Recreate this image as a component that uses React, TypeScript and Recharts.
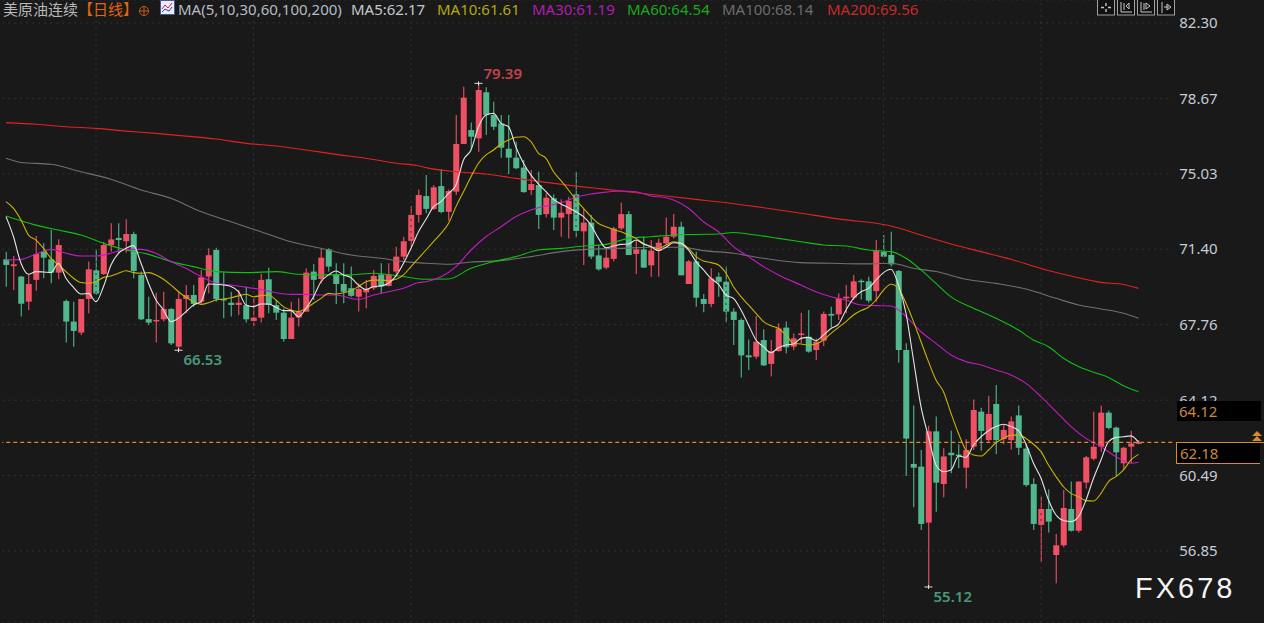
import React from 'react';
import { Bar, CartesianGrid, ComposedChart, Line, ReferenceDot, ReferenceLine, XAxis, YAxis } from 'recharts';

const opens = [70.91,70.58,70.08,68.87,69.92,71.28,70.91,70.27,68.9,67.91,67.38,69.0,70.38,70.2,71.6,71.94,71.78,72.13,70.16,68.03,67.94,68.02,68.52,66.7,69.0,69.19,68.87,70.08,71.36,69.0,68.82,68.71,68.7,67.94,68.1,69.95,68.7,68.34,67.07,68.1,68.39,70.32,69.96,71.39,70.2,69.72,69.52,69.11,69.32,69.52,70.18,69.63,70.32,71.04,71.8,73.05,73.96,73.34,74.44,73.2,74.17,76.47,77.14,76.74,78.96,77.87,77.46,76.24,75.81,75.33,74.25,74.49,73.09,73.85,72.92,73.09,74.04,72.26,72.68,71.1,70.51,70.93,72.4,73.09,71.17,71.39,70.62,71.33,71.68,72.0,72.48,69.72,70.81,69.0,68.76,70.07,69.83,68.39,67.99,66.28,66.22,67.02,65.87,66.49,67.62,66.7,67.26,67.18,66.54,66.99,68.28,68.26,69.03,69.06,69.88,69.85,69.38,71.28,71.12,70.35,66.54,61.05,60.92,58.22,62.62,60.08,61.59,61.5,60.87,61.88,63.57,62.2,63.94,62.25,62.2,63.39,61.79,60.08,58.11,58.88,56.66,57.13,58.88,57.83,60.15,61.3,61.88,63.52,62.8,61.08,61.88,62.04];
const highs = [71.28,71.07,70.11,70.16,72.03,71.68,72.33,71.88,68.98,68.87,69.0,70.8,71.39,71.76,72.65,72.65,72.84,72.24,70.32,69.11,69.3,69.35,68.55,69.35,69.67,69.67,70.4,71.44,71.47,70.27,69.35,69.43,69.6,69.11,70.21,70.51,68.95,68.55,68.87,69.03,70.48,70.69,71.44,71.44,70.72,70.72,70.56,69.76,69.92,70.4,70.72,70.72,71.52,72.0,73.48,74.28,74.97,74.49,75.25,74.28,77.87,79.23,77.5,79.39,79.2,78.51,77.87,77.87,76.58,75.7,75.21,75.13,74.09,74.04,73.8,73.93,75.13,73.32,73.05,71.6,71.47,72.48,73.64,73.24,71.84,72.0,71.84,71.92,72.93,73.09,72.72,70.88,71.28,69.24,70.48,70.27,70.56,68.55,68.07,67.05,68.18,67.54,67.02,67.83,67.91,67.34,68.34,68.47,67.1,68.39,68.63,69.27,69.67,70.15,69.95,70.07,71.84,72.08,72.24,70.4,66.86,63.86,61.72,62.89,63.33,61.8,62.65,62.0,62.24,64.16,63.76,64.34,64.85,62.93,63.33,63.86,62.04,60.36,59.47,59.83,57.67,59.79,60.2,60.2,61.43,63.57,63.86,63.62,62.85,61.88,62.65,62.2];
const lows = [69.59,69.43,68.15,68.47,69.39,70.0,69.76,69.95,66.9,66.7,67.26,68.31,69.2,70.16,71.28,71.2,71.23,70.0,67.99,67.75,66.9,67.91,66.78,66.53,68.31,68.63,68.71,69.27,68.87,68.07,68.15,68.23,67.86,67.7,67.86,68.31,67.99,66.94,67.07,67.67,68.39,68.95,69.76,70.32,68.76,68.79,69.11,68.39,68.55,69.43,69.27,69.6,70.08,70.88,71.52,72.68,73.13,73.29,73.13,72.77,74.01,76.47,76.21,76.1,76.9,77.14,75.81,75.02,75.25,74.12,74.01,72.37,72.93,72.32,72.0,71.92,72.0,70.64,70.93,70.36,70.43,70.8,72.32,71.12,70.2,70.51,70.07,70.07,71.6,71.92,70.14,69.72,68.63,68.36,68.6,69.11,67.86,66.78,65.22,65.58,66.11,65.77,65.26,66.46,66.38,66.54,66.86,66.41,66.06,66.73,67.63,67.99,68.31,68.95,68.98,68.82,68.87,71.01,70.56,65.93,60.47,58.96,57.87,55.12,58.75,59.44,60.6,60.84,59.87,61.72,61.69,62.12,61.53,62.0,61.75,61.48,59.95,57.87,56.34,57.74,55.3,57.03,57.79,57.74,59.87,61.21,61.64,62.72,60.44,60.76,61.08,62.0];
const closes = [70.64,70.67,68.77,69.72,71.17,70.99,70.27,71.6,67.91,67.46,69.0,70.43,69.26,71.6,71.87,71.84,72.13,70.35,68.02,67.86,67.99,68.52,66.86,69.0,69.19,68.76,70.04,71.11,69.0,68.95,68.71,68.82,68.02,68.1,69.92,68.71,68.34,67.07,68.1,68.39,70.27,69.92,70.99,70.56,69.72,69.35,69.15,69.48,69.48,70.11,69.6,70.18,71.04,71.78,73.05,74.01,73.34,74.38,73.19,74.2,76.47,78.7,76.82,79.07,77.87,77.3,76.29,75.81,75.3,74.15,74.54,73.05,73.88,72.92,73.16,73.72,72.28,72.68,71.04,70.43,70.99,72.4,73.09,71.12,71.39,70.51,71.33,71.71,72.0,72.48,70.14,70.81,69.06,68.76,69.99,69.83,68.39,67.99,66.28,66.19,66.94,65.8,66.49,67.58,66.67,67.1,67.34,66.46,66.94,68.28,68.2,69.03,69.11,69.85,69.82,68.92,71.31,71.04,70.67,66.54,62.27,60.87,58.16,62.62,60.15,61.41,61.47,61.45,61.72,63.65,62.64,63.46,62.2,62.69,63.1,61.83,60.03,58.16,58.88,58.27,57.13,58.93,57.83,60.2,61.37,61.88,63.52,62.78,61.61,61.83,62.04,62.09];

const ma5 = [72.97,72.0,70.72,70.19,70.32,70.3,70.27,70.72,70.0,69.56,69.24,69.27,68.87,69.6,70.64,71.2,71.44,71.57,70.72,69.76,68.95,68.47,67.91,68.07,68.39,68.71,68.87,69.72,69.71,69.67,69.6,69.35,68.71,68.63,68.76,68.76,68.6,68.44,68.44,68.15,68.55,69.11,69.83,70.16,70.35,70.16,70.03,69.67,69.46,69.6,69.63,69.76,70.11,70.72,71.44,72.24,72.84,73.45,73.69,74.09,74.49,75.7,76.18,77.3,77.87,77.95,77.46,77.3,76.31,75.54,74.97,74.54,74.17,73.8,73.58,73.4,73.2,72.97,72.56,71.92,71.47,71.55,71.63,71.65,71.84,71.65,71.52,71.33,71.49,71.71,71.68,71.36,70.8,70.4,69.99,69.7,69.19,69.03,68.47,67.75,67.02,66.7,66.41,66.65,66.78,66.83,67.1,67.15,66.99,67.26,67.58,67.79,68.47,69.03,69.35,69.51,69.91,70.27,70.43,69.67,68.31,66.06,63.81,62.36,61.0,60.68,60.76,61.43,61.37,61.96,62.36,62.65,62.85,62.96,62.85,62.65,62.0,61.08,60.36,59.31,58.59,58.32,58.27,58.51,59.31,60.36,61.24,62.12,62.33,62.36,62.4,62.09];
const ma10 = [73.69,73.37,72.81,72.08,71.84,71.44,70.96,70.64,70.32,70.0,69.79,69.76,69.83,70.04,70.11,70.24,70.36,70.27,70.24,70.27,70.16,69.95,69.67,69.35,69.08,68.87,68.74,68.82,68.95,69.0,69.06,69.15,69.23,69.11,69.16,69.19,68.95,68.63,68.47,68.39,68.55,68.79,69.03,69.27,69.24,69.3,69.4,69.6,69.83,69.91,69.91,69.88,69.95,70.16,70.56,70.96,71.36,71.76,72.16,72.64,73.45,74.17,74.89,75.54,75.94,76.18,76.47,76.66,76.79,76.82,76.58,76.02,75.78,75.13,74.7,74.25,73.77,73.37,72.97,72.64,72.48,72.35,72.24,72.08,71.92,71.68,71.52,71.44,71.6,71.76,71.68,71.44,71.04,70.83,70.75,70.64,70.24,69.59,69.11,68.71,68.31,67.91,67.71,67.58,67.26,66.86,66.83,66.78,66.83,67.02,67.34,67.63,67.91,68.23,68.44,68.6,68.95,69.43,69.71,69.51,68.79,67.91,66.94,65.98,65.1,64.53,63.49,62.52,61.72,61.48,61.43,61.72,62.07,62.28,62.44,62.44,62.28,62.0,61.64,61.0,60.44,59.95,59.63,59.47,59.28,59.26,59.63,60.2,60.44,60.76,61.24,61.51];

// slower averages, read every few bars as [bar, value]
const ma30: [number, number][] = [[0,70.88],[2,70.91],[4,71.17],[6,71.39],[8,71.2],[10,71.07],[12,71.07],[14,71.2],[16,71.39],[18,71.39],[20,71.2],[22,70.8],[24,70.48],[26,70.08],[28,69.76],[30,69.67],[32,69.56],[34,69.46],[36,69.3],[38,69.22],[40,69.22],[42,69.19],[44,69.19],[46,69.03],[47,68.98],[49,69.19],[51,69.35],[53,69.52],[55,69.79],[56,69.83],[58,70.07],[60,70.56],[62,71.36],[64,72.0],[66,72.48],[68,72.97],[70,73.29],[72,73.48],[74,73.64],[76,73.9],[78,74.06],[80,74.15],[82,74.2],[84,74.17],[86,73.96],[88,73.88],[89,73.77],[91,73.37],[93,72.72],[95,72.24],[97,71.52],[99,71.04],[101,70.56],[103,70.16],[106,69.67],[108,69.35],[110,69.11],[112,68.95],[114,68.71],[116,68.68],[118,68.66],[120,68.15],[122,67.42],[124,66.86],[126,66.3],[128,65.98],[130,65.82],[132,65.58],[134,65.34],[136,64.93],[138,64.29],[140,63.57],[142,62.85],[144,62.28],[146,61.88],[148,61.4],[150,61.08],[151,61.13]];
const ma60: [number, number][] = [[0,73.0],[4,72.56],[7,72.32],[10,72.08],[13,71.68],[16,71.36],[19,71.15],[22,70.8],[25,70.56],[28,70.32],[32,70.27],[36,70.32],[39,70.19],[42,70.16],[46,70.16],[49,70.24],[53,70.08],[56,69.95],[59,69.96],[62,70.48],[65,70.8],[68,71.04],[71,71.36],[74,71.44],[77,71.55],[80,71.63],[83,71.92],[86,72.0],[89,72.08],[92,72.11],[95,72.13],[97,72.2],[100,72.08],[103,71.92],[106,71.76],[109,71.6],[112,71.55],[115,71.36],[118,71.28],[120,70.96],[122,70.4],[124,69.75],[126,69.1],[129,68.55],[132,68.07],[135,67.5],[137,67.02],[139,66.7],[141,66.14],[143,65.74],[145,65.47],[147,65.22],[149,64.82],[151,64.53]];
const ma100: [number, number][] = [[0,75.78],[2,75.58],[6,75.49],[10,75.13],[14,74.77],[18,74.25],[22,73.85],[26,73.21],[30,72.72],[34,72.24],[38,71.76],[42,71.44],[46,71.12],[50,70.96],[53,70.8],[56,70.72],[59,70.67],[62,70.78],[66,70.85],[70,71.04],[74,71.28],[78,71.4],[82,71.44],[86,71.49],[90,71.49],[93,71.33],[97,71.2],[101,70.96],[106,70.75],[110,70.72],[114,70.69],[118,70.72],[121,70.48],[124,70.32],[128,69.95],[132,69.75],[136,69.48],[140,69.03],[143,68.71],[146,68.52],[149,68.31],[151,68.07]];
const ma200: [number, number][] = [[0,77.5],[4,77.42],[8,77.3],[12,77.22],[16,77.09],[20,76.98],[24,76.85],[28,76.71],[32,76.5],[36,76.37],[40,76.18],[44,75.97],[48,75.78],[52,75.54],[55,75.42],[56,75.33],[60,75.13],[64,75.02],[68,74.81],[72,74.62],[76,74.44],[80,74.28],[84,74.12],[88,73.96],[92,73.8],[96,73.64],[100,73.45],[104,73.24],[106,73.13],[112,72.81],[116,72.65],[118,72.52],[122,72.08],[126,71.65],[130,71.28],[134,70.91],[138,70.47],[142,70.11],[146,69.8],[149,69.7],[151,69.51]];

const priceTicks = [82.3, 78.67, 75.03, 71.4, 67.76, 64.12, 60.49, 56.85];
const monthStarts = [12, 33, 54, 76, 96, 117, 138];
const lastPrice = 62.09;
const blankBars = 4;

const legendItems = [
  { text: 'MA5:62.17', left: 351, color: '#c4c8cc' },
  { text: 'MA10:61.61', left: 437, color: '#b4a810' },
  { text: 'MA30:61.19', left: 532, color: '#b01cb0' },
  { text: 'MA60:64.54', left: 627, color: '#1aa81a' },
  { text: 'MA100:68.14', left: 722, color: '#6c6c6c' },
  { text: 'MA200:69.56', left: 827, color: '#c82a2a' },
];

const lines = [
  { key: 'ma200', color: '#e02222' },
  { key: 'ma100', color: '#707070' },
  { key: 'ma60', color: '#10c010' },
  { key: 'ma30', color: '#c41ac4' },
  { key: 'ma10', color: '#c8b400' },
  { key: 'ma5', color: '#e4e4e4' },
];

const extremes = [
  { bar: 63, value: 79.39, text: '79.39', color: '#c2434b', dy: -9 },
  { bar: 23, value: 66.53, text: '66.53', color: '#47997a', dy: 10 },
  { bar: 123, value: 55.12, text: '55.12', color: '#47997a', dy: 10 },
];

const UP = '#ef5064';
const DOWN = '#50b88c';
const FONT = '"Noto Sans", "Noto Sans CJK SC", sans-serif';

const chartData = Array.from({ length: opens.length + blankBars }, (_, i) => ({
  index: i,
  open: opens[i],
  high: highs[i],
  low: lows[i],
  close: closes[i],
  ma5: ma5[i],
  ma10: ma10[i],
  ma30: ma30.find((p) => p[0] === i)?.[1],
  ma60: ma60.find((p) => p[0] === i)?.[1],
  ma100: ma100.find((p) => p[0] === i)?.[1],
  ma200: ma200.find((p) => p[0] === i)?.[1],
}));

const Candle = (props: any) => {
  const { x, y, width, height, payload } = props;
  if (payload.open == null || !height) return null;
  const perUnit = height / (payload.high - payload.low);
  const top = y + (payload.high - Math.max(payload.open, payload.close)) * perUnit;
  const bodyHeight = Math.abs(payload.open - payload.close) * perUnit;
  const color = payload.close >= payload.open ? UP : DOWN;
  const mid = x + width / 2;
  return (
    <g>
      <line x1={mid} x2={mid} y1={y} y2={y + height} stroke={color} strokeWidth={1.1} />
      <rect x={x} y={top} width={width} height={Math.max(bodyHeight, 1.5)} fill={color} />
    </g>
  );
};

const ExtremeMark = (props: any) => {
  const { cx, cy, text, color, dy } = props;
  return (
    <g>
      <line x1={cx - 4} x2={cx + 4} y1={cy} y2={cy} stroke="#e0e0e0" strokeWidth={1} />
      <line x1={cx} x2={cx} y1={cy - 2} y2={cy + 2} stroke="#e0e0e0" strokeWidth={1} />
      <text x={cx + 5} y={cy + dy + 5} fill={color} fontSize={15} fontWeight={600} fontFamily={FONT}>{text}</text>
    </g>
  );
};

const ToolIcon = ({ left, children }: { left: number; children: React.ReactNode }) => (
  <svg width={18} height={16} style={{ position: 'absolute', left, top: 0 }}>
    <rect x={0.5} y={-2} width={17} height={17} fill="#111" stroke="#a0a0a0" />
    {children}
  </svg>
);

const headerText = { position: 'absolute', top: 0, fontSize: 15, lineHeight: '19px', whiteSpace: 'nowrap' } as const;

export default function App() {
  return (
    <div style={{ position: 'absolute', left: 0, top: 0, width: 1264, height: 623, background: '#191919', overflow: 'hidden', fontFamily: FONT }}>
      <ComposedChart width={1264} height={623} data={chartData} margin={{ top: 0, right: 0, bottom: 0, left: 2.25 }} barCategoryGap={0}>
        <CartesianGrid vertical={false} stroke="#333333" strokeDasharray="2 4" />
        <XAxis dataKey="index" hide />
        <YAxis
          orientation="right"
          width={91.75}
          domain={[53.384, 83.408]}
          ticks={priceTicks}
          interval={0}
          allowDataOverflow
          axisLine={false}
          tickLine={false}
          tickMargin={1}
          tickFormatter={(v: number) => v.toFixed(2)}
          tick={{ fill: '#c4ccd4', fontSize: 15, fontFamily: FONT, textAnchor: 'start' }}
        />
        {monthStarts.map((bar) => (
          <ReferenceLine key={bar} x={bar} stroke="#333333" strokeDasharray="2 4" />
        ))}
        <Bar dataKey={(d: any) => (d.open == null ? null : [d.low, d.high])} barSize={6} shape={<Candle />} isAnimationActive={false} />
        {lines.map((l) => (
          <Line key={l.key} type="monotone" dataKey={l.key} stroke={l.color} strokeWidth={1.1} dot={false} connectNulls isAnimationActive={false} />
        ))}
        <ReferenceLine y={lastPrice} stroke="#d98a2b" strokeWidth={1.2} strokeDasharray="4 3" />
        {extremes.map((e) => (
          <ReferenceDot key={e.text} x={e.bar} y={e.value} shape={<ExtremeMark text={e.text} color={e.color} dy={e.dy} />} />
        ))}
      </ComposedChart>

      <div style={{ ...headerText, left: 3, color: '#b8b8b8' }}>美原油连续</div>
      <div style={{ ...headerText, left: 78, color: '#e0660f' }}>【日线】</div>
      <svg width={12} height={12} style={{ position: 'absolute', left: 138, top: 5 }}>
        <circle cx={6} cy={6} r={4.5} fill="none" stroke="#c8581a" />
        <line x1={1} x2={11} y1={6} y2={6} stroke="#c8581a" />
        <line x1={6} x2={6} y1={1} y2={11} stroke="#c8581a" />
      </svg>
      <svg width={15} height={15} style={{ position: 'absolute', left: 160, top: 0 }}>
        <rect x={0.5} y={0.5} width={14} height={14} fill="#e8ecf4" stroke="#4a5a90" />
        <polyline points="2,9 5,5 8,8 12,3" fill="none" stroke="#d02828" />
        <polyline points="2,12 5,9 9,11 12,7" fill="none" stroke="#2840c0" />
      </svg>
      <div style={{ ...headerText, left: 178, color: '#b4bcc4' }}>MA(5,10,30,60,100,200)</div>
      {legendItems.map((item) => (
        <div key={item.text} style={{ ...headerText, left: item.left, color: item.color }}>{item.text}</div>
      ))}

      <ToolIcon left={1097}>
        <path d="M9 3v3M9 9v3M4 7.5h3M11 7.5h3" stroke="#c8c8c8" strokeWidth={1.4} />
      </ToolIcon>
      <ToolIcon left={1117}>
        <path d="M4 2v10h11M7 3v7M12 3l-3 3 3 3z" stroke="#c8c8c8" fill="none" />
      </ToolIcon>
      <ToolIcon left={1137}>
        <path d="M4 2v10h11M7 3v7M9 3l4 3-4 3z" stroke="#c8c8c8" fill="none" />
      </ToolIcon>
      <ToolIcon left={1157}>
        <path d="M5 2v11M7 7h5M10 4l4 3-4 3z" stroke="#c8c8c8" fill="none" />
      </ToolIcon>

      <div style={{ position: 'absolute', left: 1177, top: 401, width: 84, height: 20, background: '#000', color: '#c98a3a', fontSize: 15, lineHeight: '20px', paddingLeft: 2, boxSizing: 'border-box' }}>64.12</div>
      <div style={{ position: 'absolute', left: 1176, top: 442, width: 84, height: 22, background: '#000', color: '#c98a3a', fontSize: 15, lineHeight: '21px', paddingLeft: 3, boxSizing: 'border-box', borderTop: '1px solid #d98a2b', borderLeft: '1px solid #d98a2b', borderBottom: '1px solid #d98a2b' }}>62.18</div>
      <div style={{ position: 'absolute', left: 1260, top: 442, width: 4, height: 1, background: '#d98a2b' }} />
      <svg width={14} height={12} style={{ position: 'absolute', left: 1250, top: 431 }}>
        <path d="M7 0l5 5H2zM7 5l5 5H2z" fill="#d98a2b" />
      </svg>
      <div style={{ position: 'absolute', left: 1135, top: 570, fontSize: 29, lineHeight: '36px', color: '#f4f4f4', letterSpacing: 3, fontFamily: '"Liberation Sans", sans-serif', whiteSpace: 'nowrap' }}>FX678</div>
    </div>
  );
}
